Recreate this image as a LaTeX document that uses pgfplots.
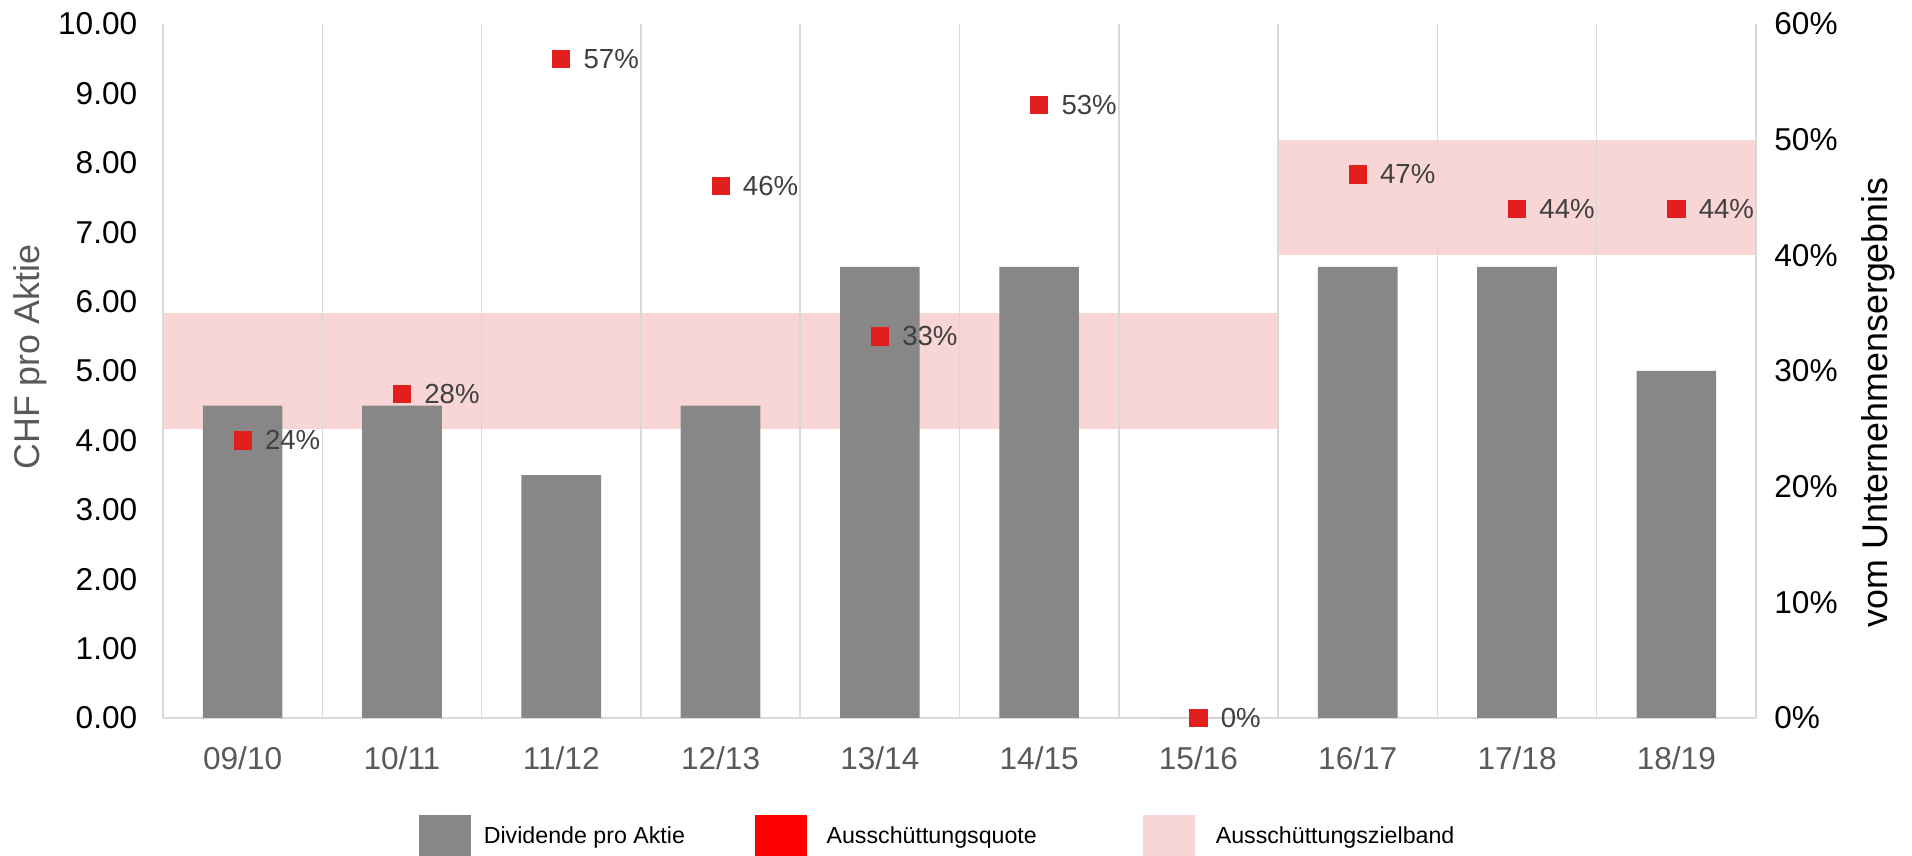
\documentclass[border=0pt]{standalone}
\usepackage{fontspec}
\setmainfont{Liberation Sans}
\usepackage{pgfplots}
\pgfplotsset{compat=1.18}
\definecolor{barc}{RGB}{135,135,135}
\definecolor{mred}{RGB}{226,31,29}
\definecolor{lred}{RGB}{255,0,0}
\definecolor{bandc}{RGB}{248,214,214}
\definecolor{gridc}{RGB}{217,217,217}
\definecolor{lblc}{RGB}{89,89,89}
\definecolor{dlbl}{RGB}{64,64,64}
\newcommand{\tickfont}{\fontsize{15.8}{18}\selectfont}
\newcommand{\titlefont}{\fontsize{17.9}{20}\selectfont}
\newcommand{\datfont}{\fontsize{13.8}{16}\selectfont}
\newcommand{\legfont}{\fontsize{11.6}{14}\selectfont}
\pgfplotsset{base/.style={scale only axis, width=796.5pt, height=347pt,
  at={(0,0)}, anchor=south west, xmin=-0.5, xmax=9.5,
  /pgf/number format/assume math mode=true}}
\begin{document}
\begin{tikzpicture}
% target band
\begin{axis}[base, ymin=0, ymax=60, hide axis]
\addplot[fill=bandc, draw=none] coordinates {(-0.5,25) (6.5,25) (6.5,35) (-0.5,35)} -- cycle;
\addplot[fill=bandc, draw=none] coordinates {(6.5,40) (9.5,40) (9.5,50) (6.5,50)} -- cycle;
\end{axis}
% bars
\begin{axis}[base, ymin=0, ymax=10,
  axis x line*=bottom, axis y line*=left,
  x axis line style={draw=gridc, line width=1pt},
  y axis line style={draw=none},
  major tick length=0pt,
  xtick={0,1,2,3,4,5,6,7,8,9},
  xticklabels={09/10,10/11,11/12,12/13,13/14,14/15,15/16,16/17,17/18,18/19},
  xticklabel style={font=\tickfont, text=lblc, anchor=north, inner sep=0pt, yshift=-14pt},
  extra x ticks={-0.5,0.5,1.5,2.5,3.5,4.5,5.5,6.5,7.5,8.5,9.5},
  extra x tick labels={},
  extra x tick style={grid=major, major grid style={draw=gridc, line width=0.75pt}},
  ytick={0,1,2,3,4,5,6,7,8,9,10},
  yticklabel style={font=\tickfont, text=black, anchor=east, inner sep=0pt, xshift=-12.7pt,
    /pgf/number format/.cd, fixed, fixed zerofill, precision=2},
  ylabel={CHF pro Aktie},
  every axis y label/.style={at={(axis description cs:-0.0835,0.52)}, rotate=90, anchor=center, font=\titlefont, text=lblc},
]
\addplot[ybar, bar width=0.5, fill=barc, draw=none]
  coordinates {(0,4.5) (1,4.5) (2,3.5) (3,4.5) (4,6.5) (5,6.5) (6,0) (7,6.5) (8,6.5) (9,5.0)};
\end{axis}
% payout ratio
\begin{axis}[base, ymin=0, ymax=60,
  axis x line=none, axis y line*=right,
  y axis line style={draw=none},
  major tick length=0pt,
  ytick={0,10,20,30,40,50,60},
  yticklabel={\pgfmathprintnumber{\tick}\%},
  yticklabel style={font=\tickfont, text=black, anchor=west, inner sep=0pt, xshift=9pt},
  ylabel={vom Unternehmensergebnis},
  every axis y label/.style={at={(axis description cs:1.0766,0.455)}, rotate=90, anchor=center, font=\titlefont, text=black},
  legend columns=3,
  legend cell align=left,
  legend style={at={(axis description cs:0.1607,-0.1707)}, anchor=west, draw=none, fill=none,
    inner sep=0pt, font=\legfont,
    /tikz/every odd column/.append style={column sep=4.3pt}},
]
\addlegendimage{legend image code/.code={\fill[barc] (0pt,-10.5pt) rectangle (25.5pt,10.5pt);}}
\addlegendentry{\makebox[133.4pt][l]{Dividende pro Aktie}}
\addlegendimage{legend image code/.code={\fill[lred] (0pt,-10.5pt) rectangle (25.5pt,10.5pt);}}
\addlegendentry{\makebox[159.9pt][l]{\hspace*{3.8pt}Ausschüttungsquote}}
\addlegendimage{legend image code/.code={\fill[bandc] (0pt,-10.5pt) rectangle (25.5pt,10.5pt);}}
\addlegendentry{\hspace*{4.3pt}Ausschüttungszielband}
\addplot[forget plot, only marks, mark=square*, mark size=4.3pt, color=mred,
  point meta=y,
  nodes near coords={\pgfmathprintnumber{\pgfplotspointmeta}\%},
  every node near coord/.append style={anchor=west, inner sep=0pt, xshift=11pt, font=\datfont, text=dlbl}]
  coordinates {(0,24) (1,28) (2,57) (3,46) (4,33) (5,53) (6,0) (7,47) (8,44) (9,44)};
\end{axis}
\pgfresetboundingbox
\path[use as bounding box] (-81.5pt,-69pt) rectangle (874.5pt,359pt);
\end{tikzpicture}
\end{document}
